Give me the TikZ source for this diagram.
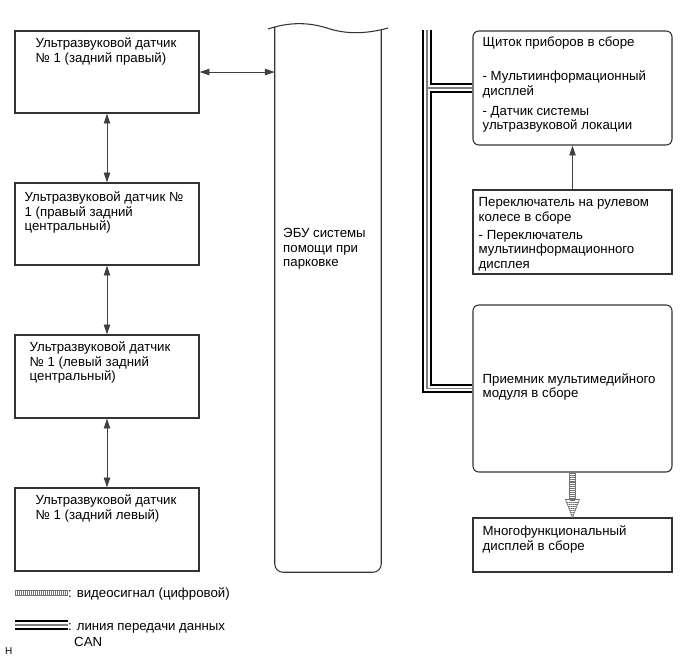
\documentclass[tikz,border=0pt]{standalone}
\usepackage{fontspec}
\setmainfont{Liberation Sans}
\usetikzlibrary{arrows.meta, positioning, fit, calc, patterns.meta}
\tikzset{
>={Triangle[length=8.5pt, width=5.5pt]}, % filled arrow heads
txt/.style={font=\fontsize{11.3}{12.5}\selectfont, align=left, inner sep=0pt}, % text in the boxes
box/.style={draw=black!80, line width=0.9pt, inner sep=0pt},
rbox/.style={box, rounded corners=5pt},
link/.style={draw=black!75, line width=0.7pt},
can/.style={draw=black, line width=8.3pt, postaction={draw=white, line width=4.9pt}, postaction={draw=black!50, line width=1.3pt}}, % CAN bus
video/.style={draw=black!55, line width=5.5pt, postaction={draw=white, line width=3.9pt}, postaction={draw=black!55, line width=3.9pt, dash pattern=on 0.6pt off 1.1pt}}, % video line
vhead/.style={draw=black!55, line width=0.6pt, pattern={Lines[angle=0, distance=1.8pt, line width=0.6pt]}, pattern color=black!55},
}

\begin{document}
\begin{tikzpicture}[x=0.03cm, y=-0.03cm]
            \useasboundingbox (0,0) rectangle (689,658);
            % sensors
            \node[box, fit={(15,31) (199,113)}, label={[txt, anchor=north west, xshift=17.9pt, yshift=-6pt]north west:{Ультразвуковой датчик\\№ 1 (задний правый)}}] (s1) {};
            \node[box, fit={(15,183) (199,265)}, label={[txt, anchor=north west, xshift=8.5pt, yshift=-7.7pt]north west:{Ультразвуковой датчик №\\1 (правый задний\\центральный)}}] (s2) {};
            \node[box, fit={(15,335) (199,418)}, label={[txt, anchor=north west, xshift=12.8pt, yshift=-6pt]north west:{Ультразвуковой датчик\\№ 1 (левый задний\\центральный)}}] (s3) {};
            \node[box, fit={(15,488) (199,571)}, label={[txt, anchor=north west, xshift=17.9pt, yshift=-6pt]north west:{Ультразвуковой датчик\\№ 1 (задний левый)}}] (s4) {};

            % ECU
            \node[inner sep=0pt, fit={(275,28) (381,572)}] (ecu) {};
            \draw[box, rounded corners=7pt] ([shift={(0,-1)}]ecu.north west) -- (ecu.south west) -- (ecu.south east) -- ([shift={(0,2)}]ecu.north east);
            \draw[box] (268,29) .. controls (295,20) and (315,24) .. (330,29) .. controls (350,35) and (370,33) .. (388,28);
            \node[txt, anchor=north west] (ecut) at (283,228) {ЭБУ системы\\помощи при\\парковке};

            % right column
            \node[rbox, fit={(473,31) (672,145)}, label={[txt, anchor=north west, xshift=8.5pt, yshift=-5.1pt]north west:{Щиток приборов в сборе\\[16.5pt]- Мультиинформационный\\дисплей\\[4.6pt]- Датчик системы\\ультразвуковой локации}}] (cl) {};
            \node[box, fit={(473,190) (672,274)}, label={[txt, anchor=north west, xshift=5.1pt, yshift=-6.8pt]north west:{Переключатель на рулевом\\колесе в сборе\\[2.6pt]- Переключатель\\мультиинформационного\\дисплея}}] (sw) {};
            \node[rbox, fit={(473,305) (672,472)}, label={[txt, anchor=west, xshift=8.5pt, yshift=1.3pt]west:{Приемник мультимедийного\\модуля в сборе}}] (rcv) {};
            \node[box, fit={(473,518) (672,572)}, label={[txt, anchor=north west, xshift=8.5pt, yshift=-6.8pt]north west:{Многофункциональный\\дисплей в сборе}}] (disp) {};

            % connections
            \draw[link, <->] (s1.south) -- (s2.north);
            \draw[link, <->] (s2.south) -- (s3.north);
            \draw[link, <->] (s3.south) -- (s4.north);
            \draw[link, <->] (s1.east) -- (s1.east -| ecu.west);
            \draw[link, ->] (sw.north) -- (cl.south);
            \coordinate (bus) at (427,30);
            \draw[can] (bus) |- (rcv.west) (bus |- cl.west) -- (cl.west);
            \draw[video] (rcv.south) -- ($(disp.north)+(0,-17)$);
            \draw[vhead] ($(disp.north)+(-7,-18)$) -- (disp.north) -- ($(disp.north)+(7,-18)$) -- cycle;

            % legend
            \coordinate (lv0) at (15,593);
            \coordinate (lv1) at (68,593);
            \draw[video] (lv0) -- (lv1);
            \node[txt, anchor=west] (lvt) at (68,594) {: видеосигнал (цифровой)};
            \coordinate (lc0) at (15,625);
            \coordinate (lc1) at (68,625);
            \draw[can] (lc0) -- (lc1);
            \node[txt, anchor=north west] (lct) at (68,623) {: линия передачи данных\\[1.5pt]\hspace*{0.45em}CAN};
            \node[font=\fontsize{8.5}{10}\selectfont, anchor=base west, inner sep=0pt] (code) at (5,654) {H};
        \end{tikzpicture}
\end{document}
